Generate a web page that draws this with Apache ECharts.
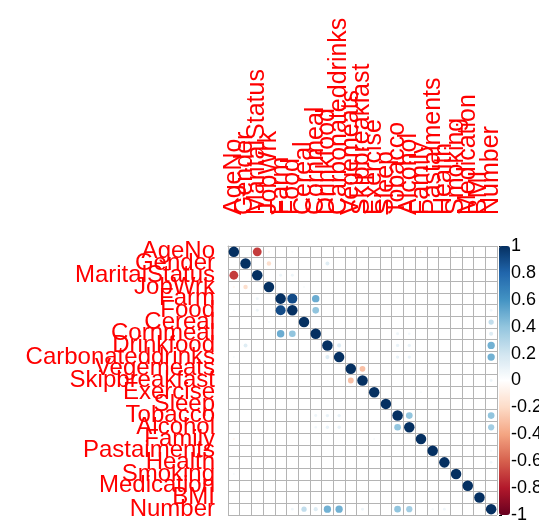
<!DOCTYPE html>
<html>
<head>
<meta charset="utf-8">
<script src="https://cdn.jsdelivr.net/npm/echarts@6/dist/echarts.min.js"></script>
<style>
  html, body { margin: 0; padding: 0; background: #fff; }
  #chart { width: 539px; height: 523px; }
</style>
</head>
<body>
<div id="chart"></div>
<script>
// Variables of the correlation matrix, in plot order
const variables = ['AgeNo', 'Gender', 'MaritalStatus', 'JobWrk', 'Farm', 'Food', 'Cereal',
  'Cornmeal', 'Drinkfood', 'Carbonateddrinks', 'Vegemeats', 'Skipbreakfast', 'Exercise',
  'Sleep', 'Tobacco', 'Alcohol', 'Family', 'Pastaiments', 'Health', 'Smoking',
  'Medication', 'BMI', 'Number'];

// Off-diagonal correlations (upper triangle): row index, column index, r
const pairRow = [0, 0, 0, 0, 1, 1, 2, 2, 4, 4, 5, 8, 10, 7, 8, 9, 7, 8, 9, 14, 6, 7, 8, 9, 5, 11, 14, 15, 17, 18, 0, 0, 3, 12];
const pairCol = [2, 3, 5, 16, 3, 8, 4, 5, 5, 7, 7, 9, 11, 14, 14, 14, 15, 15, 15, 15, 22, 22, 22, 22, 22, 22, 22, 22, 22, 22, 9, 19, 6, 16];
const pairR   = [-0.7, -0.05, 0.04, -0.05, -0.18, 0.14, 0.08, 0.08, 0.9, 0.5, 0.4, 0.15, -0.3, 0.08, 0.1, 0.1, 0.06, 0.1, 0.1, 0.4, 0.25, 0.15, 0.48, 0.48, 0.07, 0.08, 0.4, 0.35, 0.05, 0.07, 0.04, 0.04, 0.04, 0.04];

// Colour-bar tick values
const legendTicks = [-1, -0.8, -0.6, -0.4, -0.2, 0, 0.2, 0.4, 0.6, 0.8, 1];

// RdBu diverging palette, -1 (dark red) to 1 (dark blue)
const palette = ['#67001F', '#B2182B', '#D6604D', '#F4A582', '#FDDBC7', '#FFFFFF',
  '#D1E5F0', '#92C5DE', '#4393C3', '#2166AC', '#053061'];

const n = variables.length;
const gridLeft = 228, gridTop = 246, gridSize = 269;
const cell = gridSize / n;

// Build the symmetric matrix entries for the scatter series
const points = [];
for (let i = 0; i < n; i++) points.push([i, i, 1]);
pairR.forEach((r, k) => {
  points.push([pairCol[k], pairRow[k], r]);
  points.push([pairRow[k], pairCol[k], r]);
});

const fontFamily = 'Liberation Sans, Arial, sans-serif';

const chart = echarts.init(document.getElementById('chart'), null, { renderer: 'canvas' });
chart.setOption({
  backgroundColor: '#ffffff',
  animation: false,
  grid: [
    { left: gridLeft, top: gridTop, width: gridSize, height: gridSize, outerBoundsMode: 'none' },
    { left: 499, top: gridTop, width: 11, height: gridSize, outerBoundsMode: 'none' }
  ],
  xAxis: [
    {
      type: 'category', gridIndex: 0, data: variables, position: 'top',
      axisLine: { show: true, lineStyle: { color: '#b4b4b4', width: 1 } },
      axisTick: { show: false },
      splitLine: { show: true, interval: 0, lineStyle: { color: '#b4b4b4', width: 1 } },
      axisLabel: { interval: 0, rotate: -90, margin: 31, fontFamily, fontSize: 25, color: '#ff0000' }
    },
    { type: 'value', gridIndex: 1, min: 0, max: 1, show: false }
  ],
  yAxis: [
    {
      type: 'category', gridIndex: 0, data: variables, inverse: true,
      axisLine: { show: true, lineStyle: { color: '#b4b4b4', width: 1 } },
      axisTick: { show: false },
      splitLine: { show: true, interval: 0, lineStyle: { color: '#b4b4b4', width: 1 } },
      axisLabel: { interval: 0, margin: 13, fontFamily, fontSize: 24, color: '#ff0000' }
    },
    {
      type: 'value', gridIndex: 1, position: 'right',
      min: legendTicks[0], max: legendTicks[legendTicks.length - 1], interval: 0.2,
      axisLine: { show: false },
      axisTick: { show: true, length: 3, lineStyle: { color: '#000', width: 1 } },
      splitLine: { show: false },
      axisLabel: {
        margin: 1, fontSize: 18, color: '#000', fontFamily,
        formatter: v => {
          const t = legendTicks.find(x => Math.abs(x - v) < 1e-6);
          return t === undefined ? '' : String(t);
        }
      }
    }
  ],
  visualMap: {
    type: 'continuous', min: -1, max: 1, dimension: 2, seriesIndex: 0,
    left: 499, top: gridTop, itemWidth: 11, itemHeight: gridSize,
    padding: 0, calculable: false, text: null, orient: 'vertical',
    inRange: { color: palette }
  },
  series: [{
    type: 'scatter', xAxisIndex: 0, yAxisIndex: 0,
    symbol: 'circle',
    symbolSize: d => cell * 0.9 * Math.sqrt(Math.abs(d[2])),
    data: points,
    itemStyle: { opacity: 1 },
    z: 5
  }]
});
</script>
</body>
</html>
